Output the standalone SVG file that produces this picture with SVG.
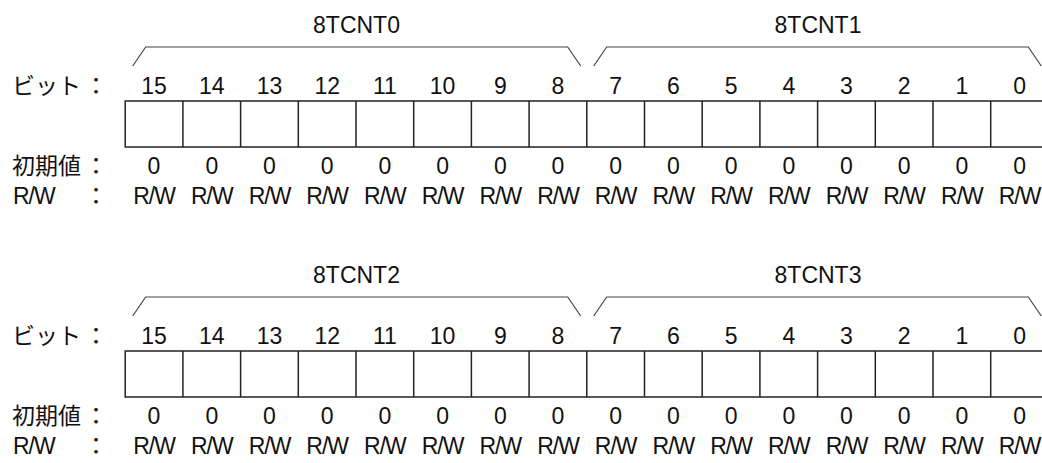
<svg xmlns="http://www.w3.org/2000/svg" width="1042" height="463" viewBox="0 0 1042 463">
<style>
text{font-family:"Liberation Sans",Arial,"Noto Sans CJK JP",sans-serif;font-size:23px;fill:#111}
.jp{font-family:"Noto Sans CJK JP","Liberation Sans",sans-serif;font-size:23px}
.c{text-anchor:middle}
.rw{letter-spacing:-1px}
.box{fill:#fff;stroke:#222;stroke-width:1.5}
.br{fill:none;stroke:#444;stroke-width:1.2}
</style>
<defs>
<g id="reg">
<rect class="box" x="125.2" y="101" width="923.2" height="46"/>
<path class="box" d="M182.9 101V147M240.6 101V147M298.3 101V147M356 101V147M413.7 101V147M471.4 101V147M529.1 101V147M586.8 101V147M644.5 101V147M702.2 101V147M759.9 101V147M817.6 101V147M875.3 101V147M933 101V147M990.7 101V147"/>
<path class="br" d="M132.7 66L145.7 47H567.7L580.7 66M593.7 66L606.7 47H1028.3L1041.3 66"/>
<text class="jp" x="12" y="94">ビット</text><text class="jp c" x="96" y="94">：</text>
<text class="jp" x="12" y="174">初期値</text><text class="jp c" x="96" y="174">：</text>
<text class="rw" x="13" y="204">R/W</text><text class="jp c" x="96" y="204">：</text>
<g class="c">
<text x="154" y="94">15</text><text x="211.8" y="94">14</text><text x="269.5" y="94">13</text><text x="327.2" y="94">12</text><text x="384.9" y="94">11</text><text x="442.6" y="94">10</text><text x="500.3" y="94">9</text><text x="558" y="94">8</text><text x="615.7" y="94">7</text><text x="673.4" y="94">6</text><text x="731.1" y="94">5</text><text x="788.8" y="94">4</text><text x="846.5" y="94">3</text><text x="904.2" y="94">2</text><text x="961.9" y="94">1</text><text x="1019.6" y="94">0</text>
<text x="154" y="174">0</text><text x="211.8" y="174">0</text><text x="269.5" y="174">0</text><text x="327.2" y="174">0</text><text x="384.9" y="174">0</text><text x="442.6" y="174">0</text><text x="500.3" y="174">0</text><text x="558" y="174">0</text><text x="615.7" y="174">0</text><text x="673.4" y="174">0</text><text x="731.1" y="174">0</text><text x="788.8" y="174">0</text><text x="846.5" y="174">0</text><text x="904.2" y="174">0</text><text x="961.9" y="174">0</text><text x="1019.6" y="174">0</text>
</g>
<g class="c rw">
<text x="154" y="204">R/W</text><text x="211.8" y="204">R/W</text><text x="269.5" y="204">R/W</text><text x="327.2" y="204">R/W</text><text x="384.9" y="204">R/W</text><text x="442.6" y="204">R/W</text><text x="500.3" y="204">R/W</text><text x="558" y="204">R/W</text><text x="615.7" y="204">R/W</text><text x="673.4" y="204">R/W</text><text x="731.1" y="204">R/W</text><text x="788.8" y="204">R/W</text><text x="846.5" y="204">R/W</text><text x="904.2" y="204">R/W</text><text x="961.9" y="204">R/W</text><text x="1019.6" y="204">R/W</text>
</g>
</g>
</defs>
<g id="register-upper">
<text class="c" x="356.5" y="33">8TCNT0</text>
<text class="c" x="818" y="33">8TCNT1</text>
<use href="#reg"/>
</g>
<g id="register-lower">
<text class="c" x="356.5" y="283">8TCNT2</text>
<text class="c" x="818" y="283">8TCNT3</text>
<use href="#reg" y="250"/>
</g>
</svg>
